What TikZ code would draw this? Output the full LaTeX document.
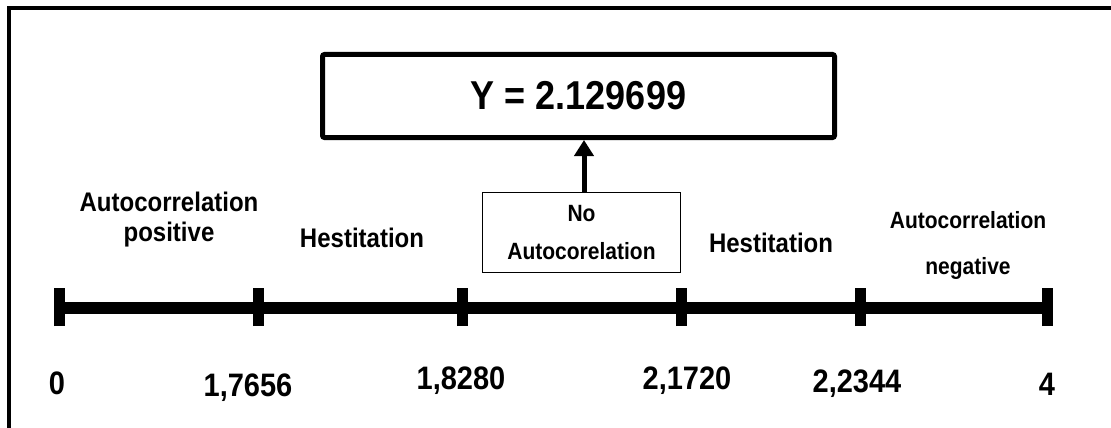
\documentclass[tikz,border=0pt]{standalone}
\usepackage{fontspec}
\usepackage{graphicx}
\setmainfont{Liberation Sans}
\usetikzlibrary{arrows.meta}
\newcommand{\vst}[1]{\scalebox{1}[1.12]{#1}}
\begin{document}
\begin{tikzpicture}[x=1pt,y=-1pt,
  lbl/.style={font=\bfseries\fontsize{24}{30}\selectfont, align=center, inner sep=0pt},
  lblsmall/.style={font=\bfseries\fontsize{21}{46}\selectfont, align=center, inner sep=0pt},
  ticklbl/.style={font=\bfseries\fontsize{29}{34}\selectfont, inner sep=0pt},
  tickmark/.style={line width=11pt},
  axisline/.style={line width=12pt},
  bigbox/.style={draw, line width=5pt, rounded corners=2pt, minimum width=512pt, minimum height=83pt, font=\bfseries\fontsize{36}{40}\selectfont},
  smallbox/.style={draw, line width=1.2pt, minimum width=198pt, minimum height=80pt, align=center, font=\bfseries\fontsize{21}{38}\selectfont},
  arr/.style={line width=5pt, -{Triangle[length=16pt,width=19pt]}}]
\useasboundingbox (0,0) rectangle (1111,428);
% frame
\draw[line width=4pt] (9.3,430) -- (9.3,7.7) -- (1115,7.7);
% boxes
\node[bigbox] (big) at (578.5,96) {\vst{Y = 2.129699}};
\node[smallbox] (small) at (581.5,232.5) {\vst{No}\\\vst{Autocorelation}};
\draw[arr] (small.north -| 584,0) -- (big.south -| 584,0);
% axis
\coordinate (a0) at (59,308);
\coordinate (a1) at (258.5,308);
\coordinate (a2) at (462,308);
\coordinate (a3) at (681,308);
\coordinate (a4) at (860,308);
\coordinate (a5) at (1047,308);
\draw[axisline] (a0) -- (a5);
\foreach \p in {a0,a1,a2,a3,a4,a5}
  \draw[tickmark] ([yshift=-18pt]\p) -- ([yshift=20pt]\p);
% tick labels
\node[ticklbl] (t0) at (57,383) {\vst{0}};
\node[ticklbl] (t1) at (248,388) {\vst{1,7656}};
\node[ticklbl] (t2) at (461,381) {\vst{1,8280}};
\node[ticklbl] (t3) at (687,381) {\vst{2,1720}};
\node[ticklbl] (t4) at (857,384) {\vst{2,2344}};
\node[ticklbl] (t5) at (1047,384) {\vst{4}};
% region labels
\node[lbl] (l1) at (169,220) {\vst{Autocorrelation}\\\vst{positive}};
\node[lbl] (l2) at (362,238) {\vst{Hestitation}};
\node[lbl] (l3) at (771,243) {\vst{Hestitation}};
\node[lblsmall] (l4) at (968,245) {\vst{Autocorrelation}\\\vst{negative}};
\end{tikzpicture}
\end{document}
